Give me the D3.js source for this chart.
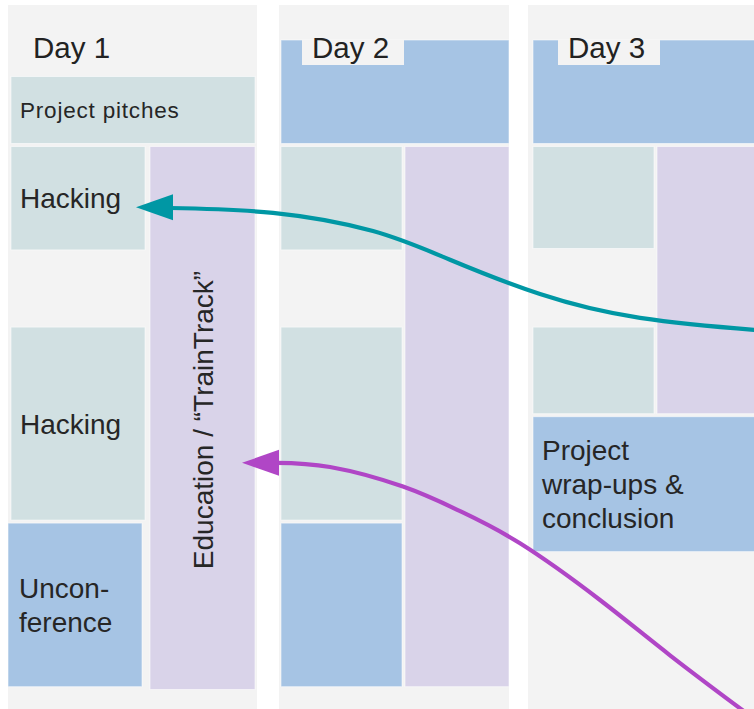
<!DOCTYPE html>
<html><head><meta charset="utf-8">
<script src="https://cdn.jsdelivr.net/npm/d3@7"></script>
<style>body{margin:0;background:#fff}svg{display:block}</style>
</head><body><svg id="c" width="754" height="709"></svg>
<script>
// ---- data ----
const days = ["Day 1", "Day 2", "Day 3"];
// [lane, startHour, endHour, type, label]
const day1Sessions = [
  ["full", 9.5, 10.5, "hacking", "Project pitches"],
  ["left", 10.5, 12.02, "hacking", "Hacking"],
  ["right", 10.5, 18.3, "education", "Education / \u201CTrainTrack\u201D"],
  ["left", 13.08, 15.88, "hacking", "Hacking"],
  ["left", 15.88, 18.26, "plenary", "Uncon-\nference"]
];
const day2Sessions = [
  ["full", 9.0, 10.5, "plenary", ""],
  ["left", 10.5, 12.02, "hacking", ""],
  ["right", 10.5, 18.26, "education", ""],
  ["left", 13.08, 15.88, "hacking", ""],
  ["left", 15.88, 18.26, "plenary", ""]
];
const day3Sessions = [
  ["full", 9.0, 10.5, "plenary", ""],
  ["left", 10.5, 12.0, "hacking", ""],
  ["right", 10.5, 14.36, "education", ""],
  ["left", 13.08, 14.36, "hacking", ""],
  ["full", 14.36, 16.33, "plenary", "Project\nwrap-ups &\nconclusion"]
];
const sessionsByDay = [day1Sessions, day2Sessions, day3Sessions];
// annotation arrows: [x, hour]
const tealArrow = [[136,11.39],[173,11.40],[273,11.47],[373,11.73],[450,12.14],[540,12.63],[640,12.97],[754,13.14],[800,13.18]];
const purpleArrow = [[242,15.04],[279,15.04],[330,15.10],[403,15.38],[460,15.73],[520,16.19],[600,17.0],[670,17.79],[745,18.6],[780,18.97]];

// ---- layout / style ----
const colors = {hacking:"#d1e0e2", plenary:"#a6c4e4", education:"#d9d3e9"};
const columns = [
  {x0:8, x1:257, in0:11, in1:255, split:147.5, gap:2.5, labelX:33, box:null},
  {x0:279, x1:509, in0:281, in1:509, split:403.5, gap:1.5, labelX:312, box:[302,404]},
  {x0:528, x1:770, in0:533, in1:770, split:655.5, gap:1.5, labelX:568, box:[558,660]}
];
const font = "'Liberation Sans', Arial, Helvetica, sans-serif";
const textColor = "#262626";

const svg = d3.select("#c");
const y = d3.scaleLinear().domain([9, 18]).range([40, 670]);
const pad = 1.5;

days.forEach((day, i) => {
  const col = columns[i];
  const g = svg.append("g");
  g.append("rect").attr("x", col.x0).attr("y", 5).attr("width", col.x1 - col.x0).attr("height", 720).attr("fill", "#f3f3f3");

  sessionsByDay[i].forEach(([lane, s, e, type, label]) => {
    let bx0 = col.in0, bx1 = col.in1;
    if (lane === "left") bx1 = col.split - col.gap;
    if (lane === "right") bx0 = col.split + col.gap;
    if (i === 0 && type === "plenary") { bx0 -= 3; bx1 -= 3; }
    const by0 = y(s) + (s === 9 ? 0 : pad), by1 = y(e) - pad;
    g.append("rect").attr("x", bx0).attr("y", by0).attr("width", bx1 - bx0).attr("height", by1 - by0)
      .attr("fill", colors[type]).attr("stroke", "rgba(255,255,255,0.55)").attr("stroke-width", 1);
    if (!label) return;
    const cy = (by0 + by1) / 2;
    if (type === "education") {
      const cx = (bx0 + bx1) / 2;
      g.append("text").attr("transform", `translate(${cx + 10},${cy + 2}) rotate(-90)`)
        .attr("text-anchor", "middle").attr("font-family", font).attr("font-size", 28)
        .attr("fill", textColor).text(label);
      return;
    }
    const lines = label.split("\n");
    const small = (by1 - by0) < 80;
    const fs = small ? 22.5 : 28;
    const lh = 34;
    const cap = fs * 0.716;
    const tx = (i === 0 && type === "plenary") ? bx0 + 11 : bx0 + 9;
    const t = g.append("text").attr("font-family", font).attr("font-size", fs).attr("fill", textColor)
      .attr("letter-spacing", small ? 0.8 : 0);
    lines.forEach((ln, k) => {
      t.append("tspan").attr("x", tx)
        .attr("y", cy - (lines.length - 1) * lh / 2 + k * lh + cap / 2).text(ln);
    });
  });

  if (col.box) {
    g.append("rect").attr("x", col.box[0]).attr("y", y(9)).attr("width", col.box[1] - col.box[0]).attr("height", 25).attr("fill", "#f3f3f3");
  }
  g.append("text").attr("x", col.labelX).attr("y", 57.5).attr("font-family", font).attr("font-size", 29.5)
    .attr("fill", "#222").text(day);
});

// arrows
function drawArrow(pts, color) {
  const P = pts.map(([px, h]) => [px, y(h)]);
  const tip = P[0];
  const line = d3.line().curve(d3.curveNatural);
  svg.append("path").attr("d", line(P.slice(1).map((p, k) => k === 0 ? [p[0] - 3, p[1]] : p)))
    .attr("fill", "none").attr("stroke", color).attr("stroke-width", 4.2).attr("stroke-linecap", "butt");
  svg.append("path").attr("d", `M${tip[0]},${tip[1]}L${tip[0] + 37},${tip[1] - 13}L${tip[0] + 37},${tip[1] + 13}Z`)
    .attr("fill", color);
}
drawArrow(tealArrow, "#0097a4");
drawArrow(purpleArrow, "#b046c6");
</script></body></html>
